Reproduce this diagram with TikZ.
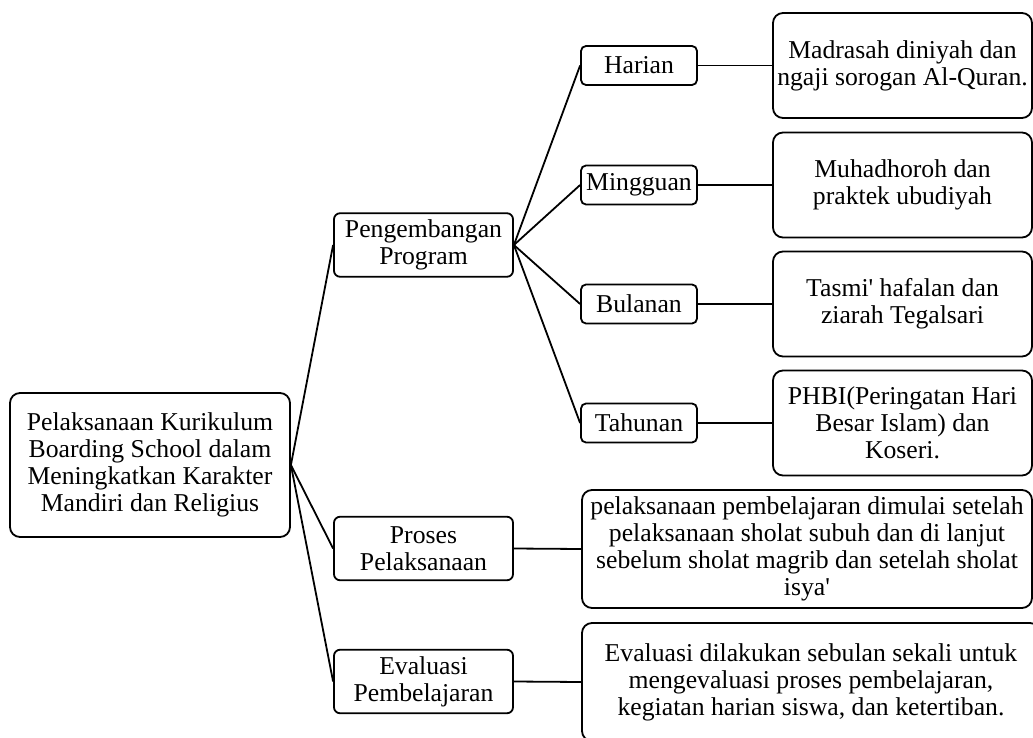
\documentclass[tikz,border=0pt]{standalone}
\usepackage{fontspec}
\setmainfont{Liberation Serif}
\begin{document}
\begin{tikzpicture}[x=1pt,y=-1pt,
    caja/.style={draw, line width=1.8pt, align=center, inner sep=2pt,
      font=\fontsize{25.7}{27}\selectfont},
    nivel/.style={caja, minimum width=179pt, minimum height=63.5pt, rounded corners=6pt},
    periodo/.style={caja, minimum width=116pt, minimum height=39pt, rounded corners=5pt},
    detalle/.style={caja, minimum width=259pt, minimum height=105pt, rounded corners=10pt},
    linea/.style={line width=1.8pt}]
    \useasboundingbox (0,0) rectangle (1033,738);

    % Nodo principal
    \node[caja, minimum width=280pt, minimum height=144pt, rounded corners=10pt] (raiz) at (150,465)
        {Pelaksanaan Kurikulum\\Boarding School dalam\\Meningkatkan Karakter\\Mandiri dan Religius};

    % Segundo nivel
    \node[nivel] (peng) at (423.5,245) {Pengembangan\\Program};
    \node[nivel] (proses) at (423.5,548.5) {Proses\\Pelaksanaan};
    \node[nivel] (eval) at (423.5,681.5) {Evaluasi\\Pembelajaran};
    \foreach \hijo in {peng, proses, eval}
        \draw[linea] (raiz.east) -- (\hijo.west);

    % Periodos del programa y su descripcion
    \foreach \y/\nombre/\periodo/\texto in {
        65.5/har/Harian/{Madrasah diniyah dan\\ngaji sorogan Al-Quran.},
        185/ming/Mingguan/{Muhadhoroh dan\\praktek ubudiyah},
        304/bul/Bulanan/{Tasmi\textquotesingle{} hafalan dan\\ziarah Tegalsari},
        423/tah/Tahunan/{PHBI(Peringatan Hari\\Besar Islam) dan\\Koseri.}} {
        \node[periodo] (\nombre) at (639,\y) {\periodo};
        \node[detalle] (\nombre-d) at (902.5,\y) {\texto};
        \draw[linea] (peng.east) -- (\nombre.west);
        \draw[linea] (\nombre.east) -- (\nombre-d.west);
    }

    % Cajas largas
    \node[caja, minimum width=450pt, minimum height=118pt, rounded corners=10pt] (proses-d) at (807,549)
        {pelaksanaan pembelajaran dimulai setelah\\pelaksanaan sholat subuh dan di lanjut\\sebelum sholat magrib dan setelah sholat\\isya\textquotesingle};
    \node[caja, minimum width=458pt, minimum height=118pt, rounded corners=10pt] (eval-d) at (811,682)
        {Evaluasi dilakukan sebulan sekali untuk\\mengevaluasi proses pembelajaran,\\kegiatan harian siswa, dan ketertiban.};
    \draw[linea] (proses.east) -- (proses-d.west);
    \draw[linea] (eval.east) -- (eval-d.west);
\end{tikzpicture}
\end{document}
